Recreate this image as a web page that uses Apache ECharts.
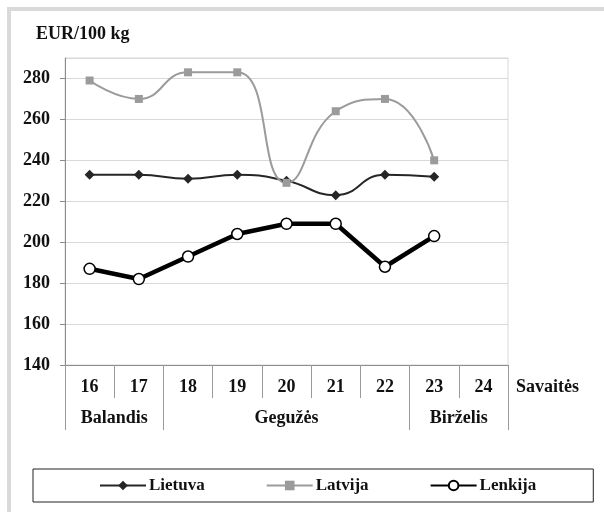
<!DOCTYPE html>
<html>
<head>
<meta charset="utf-8">
<script src="https://cdn.jsdelivr.net/npm/echarts@6/dist/echarts.min.js"></script>
<style>
  html, body { margin: 0; padding: 0; background: #fff; overflow: hidden; }
  #wrap { position: relative; width: 604px; height: 512px; overflow: hidden; }
  #frame { position: absolute; left: 7px; top: 7px; width: 640px; height: 560px; border: 4px solid #d9d9d9; box-sizing: border-box; }
  #chart { position: absolute; left: 0; top: 0; width: 604px; height: 512px; }
</style>
</head>
<body>
<div id="wrap">
  <div id="frame"></div>
  <div id="chart"></div>
</div>
<script>
// ---- data ----
const weeks = ['16', '17', '18', '19', '20', '21', '22', '23', '24'];
const months = ['Balandis', 'Gegužės', 'Birželis'];
const monthWeekCounts = [2, 5, 2];
const lietuva = [233, 233, 231, 233, 230, 223, 233, 232, null];
const latvija = [279, 270, 283, 283, 229, 264, 270, 240, null];
const lenkija = [187, 182, 193, 204, 209, 209, 188, 203, null];
const seriesNames = ['Lietuva', 'Latvija', 'Lenkija'];
const yTitle = 'EUR/100 kg';
const xTitle = 'Savaitės';
const yMin = 140, yMax = 290, yStep = 20;

// month boundaries and centers (in category units) derived from week counts
const monthBounds = [0];
monthWeekCounts.forEach(c => monthBounds.push(monthBounds[monthBounds.length - 1] + c));
const monthCenters = months.map((m, i) => (monthBounds[i] + monthBounds[i + 1]) / 2);

const FONT = 'Liberation Serif';
const txt = { fontFamily: FONT, fontWeight: 'bold', fontSize: 18, color: '#111' };

const chart = echarts.init(document.getElementById('chart'), null, { renderer: 'canvas' });
chart.setOption({
  animation: false,
  backgroundColor: 'transparent',
  title: {
    text: yTitle, left: 31, top: 20,
    textStyle: Object.assign({}, txt)
  },
  grid: {
    left: 65, right: 96, top: 58, bottom: 147,
    show: true, borderColor: '#d9d9d9', borderWidth: 1, containLabel: false
  },
  legend: {
    left: 33, top: 469,
    data: seriesNames,
    borderColor: '#222', borderWidth: 1,
    padding: [8, 57, 8, 66],
    itemGap: 61, itemWidth: 46, itemHeight: 12,
    textStyle: Object.assign({}, txt, { fontSize: 17, padding: [0, 0, 0, -2] })
  },
  xAxis: [
    {
      type: 'category', data: weeks, boundaryGap: true,
      name: xTitle, nameLocation: 'end', nameGap: 8,
      nameTextStyle: Object.assign({}, txt, { verticalAlign: 'top', align: 'left', padding: [13, 0, 0, 0] }),
      axisLine: { lineStyle: { color: '#8c8c8c', width: 1 } },
      axisTick: { show: true, interval: 0, length: 33, lineStyle: { color: '#9a9a9a' } },
      axisLabel: Object.assign({ margin: 13, interval: 0 }, txt),
      splitLine: { show: false }
    },
    {
      type: 'value', min: 0, max: weeks.length, position: 'bottom',
      axisLine: { show: false },
      axisTick: { show: true, customValues: monthBounds, length: 65, lineStyle: { color: '#9a9a9a' } },
      axisLabel: Object.assign({
        margin: 44, customValues: monthCenters,
        formatter: v => { const i = monthCenters.indexOf(v); return i >= 0 ? months[i] : ''; }
      }, txt),
      splitLine: { show: false }
    }
  ],
  yAxis: {
    type: 'value', min: yMin, max: yMax, interval: yStep,
    axisLine: { show: true, lineStyle: { color: '#8c8c8c' } },
    axisTick: { show: true, length: 5, lineStyle: { color: '#8c8c8c' } },
    axisLabel: Object.assign({ margin: 15, showMaxLabel: false }, txt),
    splitLine: { show: true, lineStyle: { color: '#d9d9d9', width: 1 } }
  },
  series: [
    {
      name: seriesNames[0], type: 'line', data: lietuva, smooth: 0.5,
      symbol: 'diamond', symbolSize: 10,
      itemStyle: { color: '#262626' },
      lineStyle: { color: '#262626', width: 2 }
    },
    {
      name: seriesNames[1], type: 'line', data: latvija, smooth: 0.5,
      symbol: 'rect', symbolSize: 8,
      itemStyle: { color: '#9b9b9b' },
      lineStyle: { color: '#9b9b9b', width: 2 }
    },
    {
      name: seriesNames[2], type: 'line', data: lenkija, smooth: false,
      symbol: 'circle', symbolSize: 11,
      itemStyle: { color: '#fff', borderColor: '#000', borderWidth: 1.5 },
      lineStyle: { color: '#000', width: 4.5 }
    }
  ]
});
</script>
</body>
</html>
